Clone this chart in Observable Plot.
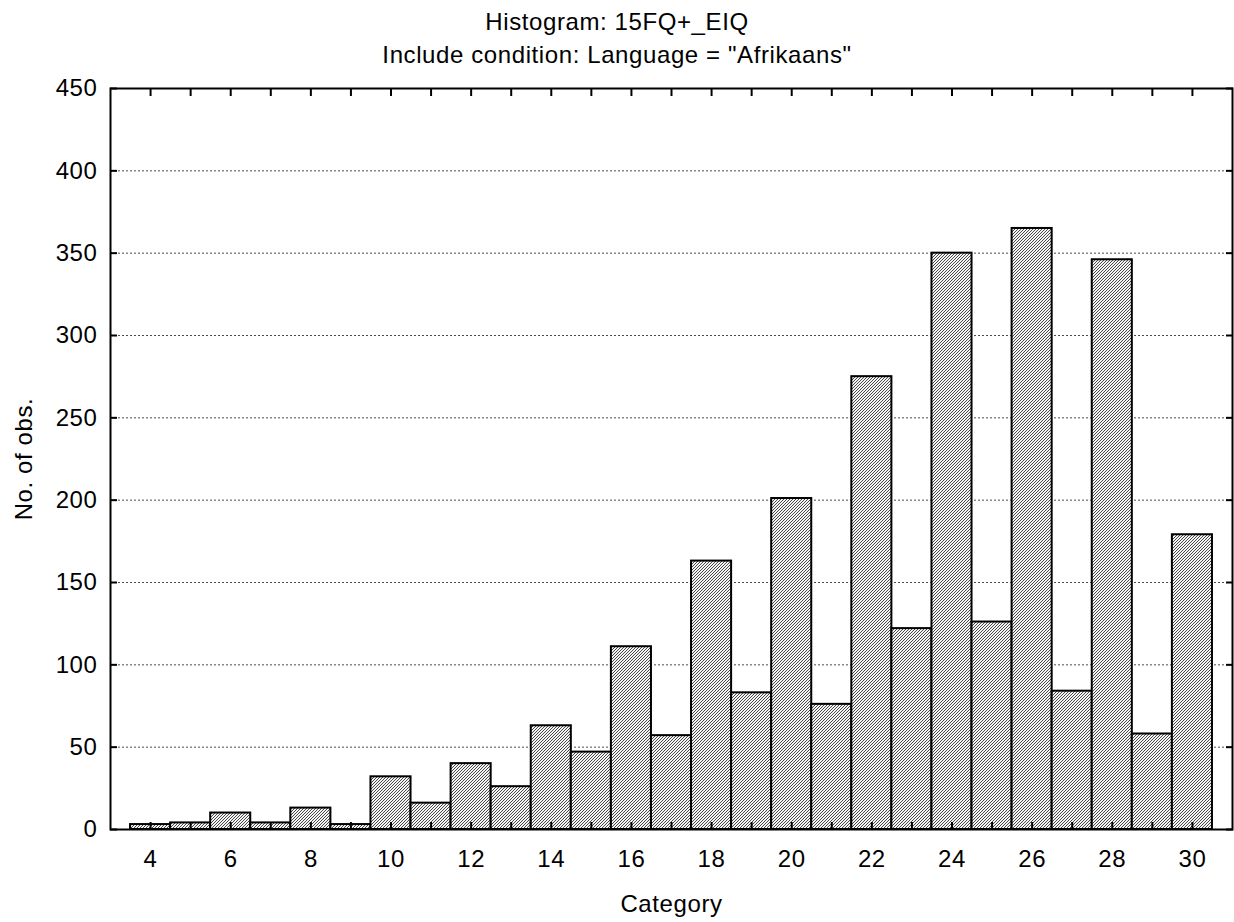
<!DOCTYPE html>
<html>
<head>
<meta charset="utf-8">
<script src="https://cdn.jsdelivr.net/npm/d3@7"></script>
<script src="https://cdn.jsdelivr.net/npm/@observablehq/plot@0.6"></script>
<style>
  html, body { margin: 0; padding: 0; background: #fff; }
  #wrap { width: 1234px; font-family: "Liberation Sans", Arial, sans-serif; }
  #title { padding-top: 5px; line-height: 33px; font-size: 24px; text-align: center; color: #000; letter-spacing: 0.6px; }
  svg text { letter-spacing: 0.6px; }
</style>
</head>
<body>
<div id="wrap">
  <div id="title">
    <div>Histogram: 15FQ+_EIQ</div>
    <div>Include condition: Language = "Afrikaans"</div>
  </div>
  <div id="chart"></div>
</div>
<script>
const categories = [4, 5, 6, 7, 8, 9, 10, 11, 12, 13, 14, 15, 16, 17, 18, 19, 20, 21, 22, 23, 24, 25, 26, 27, 28, 29, 30];
const counts     = [3, 4, 10, 4, 13, 3, 32, 16, 40, 26, 63, 47, 111, 57, 163, 83, 201, 76, 275, 122, 350, 126, 365, 84, 346, 58, 179];
const xTickLabels = [4, 6, 8, 10, 12, 14, 16, 18, 20, 22, 24, 26, 28, 30];
const yTickLabels = [0, 50, 100, 150, 200, 250, 300, 350, 400, 450];
const gridValues  = [50, 100, 150, 200, 250, 300, 350, 400];

const data = categories.map((c, i) => ({c, v: counts[i]}));
const font = "Liberation Sans, Arial, sans-serif";

const chart = Plot.plot({
  width: 1234,
  height: 851,
  marginTop: 17,
  marginBottom: 93,
  marginLeft: 110,
  marginRight: 2,
  style: {fontFamily: font, fontSize: "24px", color: "#000", background: "#fff"},
  x: {domain: [3, 31]},
  y: {domain: [0, 450]},
  marks: [
    Plot.gridY(gridValues, {stroke: "#000", strokeOpacity: 0.7, strokeDasharray: "2,2", strokeWidth: 1}),
    Plot.rectY(data, {x1: d => d.c - 0.5, x2: d => d.c + 0.5, y: "v", fill: "url(#hatch)", stroke: "#000", strokeWidth: 2}),
    Plot.axisX(categories, {anchor: "bottom", tickSize: -7, tickFormat: () => "", label: null, strokeWidth: 2}),
    Plot.axisX(categories, {anchor: "top", tickSize: -7, tickFormat: () => "", label: null, strokeWidth: 2}),
    Plot.axisX(xTickLabels, {anchor: "bottom", tickSize: 0, tickPadding: 20, fontSize: 24, label: null}),
    Plot.axisY(yTickLabels, {anchor: "left", tickSize: -7, tickFormat: () => "", label: null, strokeWidth: 2}),
    Plot.axisY(yTickLabels, {anchor: "right", tickSize: -7, tickFormat: () => "", label: null, strokeWidth: 2}),
    Plot.axisY(yTickLabels, {anchor: "left", tickSize: 0, tickPadding: 13, fontSize: 24, label: null}),
    Plot.frame({stroke: "#000", strokeWidth: 2}),
    Plot.text(["No. of obs."], {frameAnchor: "left", textAnchor: "middle", lineAnchor: "middle", dx: -86, rotate: -90, fontSize: 24, fill: "#000"}),
    Plot.text(["Category"], {frameAnchor: "bottom", lineAnchor: "middle", dy: 75, fontSize: 24, fill: "#000"})
  ]
});

const ns = "http://www.w3.org/2000/svg";
const defs = document.createElementNS(ns, "defs");
defs.innerHTML = `<pattern id="hatch" patternUnits="userSpaceOnUse" width="3" height="3">
  <rect width="3" height="3" fill="#f4f4f4"></rect>
  <path d="M-1,1 l2,-2 M0,3 l3,-3 M2,4 l2,-2" stroke="#111" stroke-width="0.75"></path>
</pattern>`;
chart.insertBefore(defs, chart.firstChild);
document.getElementById("chart").appendChild(chart);
</script>
</body>
</html>
